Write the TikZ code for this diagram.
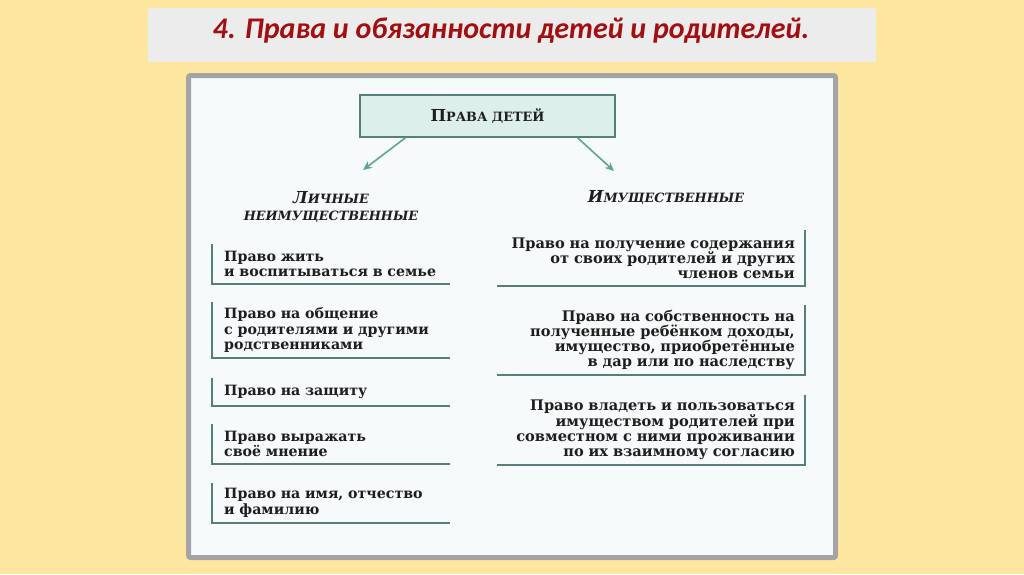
\documentclass[tikz,border=0pt]{standalone}
\usepackage{fontspec}
\setmainfont{DejaVu Serif}
\newfontfamily\titlefont{Carlito}
\usepackage{xcolor}
\usepackage{tikz}
\usetikzlibrary{arrows.meta,positioning}
\definecolor{slidebg}{HTML}{FDE7A0}
\definecolor{titlebg}{HTML}{ECECEC}
\definecolor{titlered}{HTML}{A30F10}
\definecolor{panelgray}{HTML}{A4A4A4}
\definecolor{panelbg}{HTML}{F6FAFA}
\definecolor{tealline}{HTML}{557F7A}
\definecolor{tealfill}{HTML}{DDEFEB}
\definecolor{tealarrow}{HTML}{5DA697}
\definecolor{inkdark}{HTML}{1E1E1E}
\newcommand{\fakesc}[2]{{\fontsize{16.5pt}{17pt}\selectfont #1}{\fontsize{12.8pt}{17pt}\selectfont #2}}
\tikzset{
  head/.style  ={draw=tealline,line width=1.4pt,fill=tealfill,minimum width=255pt,
                 minimum height=42pt,text=inkdark,font=\bfseries},
  cat/.style   ={align=center,text=inkdark,font=\bfseries\itshape\fontsize{12.8pt}{17pt}\selectfont},
  litem/.style ={anchor=west,text width=214pt,inner xsep=12pt,inner ysep=0pt,align=left,
                 text=inkdark,font=\bfseries\fontsize{14.2pt}{15.5pt}\selectfont},
  ritem/.style ={anchor=east,text width=288pt,inner xsep=10pt,inner ysep=0pt,align=right,
                 text=inkdark,font=\bfseries\fontsize{14.6pt}{15.2pt}\selectfont},
  brk/.style   ={draw=tealline,line width=1.6pt},
  branch/.style={-{Stealth[length=9pt,width=8pt]},line width=1.6pt,draw=tealarrow}
}
\begin{document}
\begin{tikzpicture}[x=1pt,y=-1pt]
  \fill[slidebg] (0,0) rectangle (1024,574);
  \useasboundingbox (0,0) rectangle (1024,574);
  % title bar
  \fill[titlebg] (148,8) rectangle (876,62);
  \node[font=\titlefont\bfseries\itshape\fontsize{30pt}{32pt}\selectfont,text=titlered] (title) at (511,31)
    {4. Права и обязанности детей и родителей.};
  % scheme panel
  \draw[panelgray,line width=5pt,fill=panelbg,rounded corners=2pt] (188.5,75.5) rectangle (835.5,557.5);
  \node[head] (rights) at (487.5,116) {\fakesc{П}{РАВА ДЕТЕЙ}};
  \coordinate (lend) at (363,170);
  \coordinate (rend) at (614,171);
  \draw[branch] ([xshift=-82pt]rights.south) -- (lend);
  \draw[branch] ([xshift=90pt]rights.south) -- (rend);
  \node[cat] (personal) at (331,207) {\fakesc{Л}{ИЧНЫЕ}\\\fakesc{}{НЕИМУЩЕСТВЕННЫЕ}};
  \node[cat] (property) at (666,197) {\fakesc{И}{МУЩЕСТВЕННЫЕ}};
  % left column
  \node[litem,minimum height=39pt] (l1) at (212,264) {Право жить\\и воспитываться в семье};
  \node[litem,minimum height=55pt] (l2) at (212,330) {Право на общение\\с родителями и другими\\родственниками};
  \node[litem,minimum height=27pt] (l3) at (212,392) {Право на защиту};
  \node[litem,minimum height=40pt] (l4) at (212,444) {Право выражать\\своё мнение};
  \node[litem,minimum height=40pt] (l5) at (212,503) {Право на имя, отчество\\и фамилию};
  \foreach \n in {l1,l2,l3,l4,l5}
    \draw[brk] (\n.north west) |- (\n.south east);
  % right column
  \node[ritem,minimum height=55pt] (r1) at (805,258) {Право на получение содержания\\от своих родителей и других\\членов семьи};
  \node[ritem,minimum height=70pt] (r2) at (805,340) {Право на собственность на\\полученные ребёнком доходы,\\имущество, приобретённые\\в дар или по наследству};
  \node[ritem,minimum height=70pt] (r3) at (805,430) {Право владеть и пользоваться\\имуществом родителей при\\совместном с ними проживании\\по их взаимному согласию};
  \foreach \n in {r1,r2,r3}
    \draw[brk] (\n.north east) |- (\n.south west);
\end{tikzpicture}
\end{document}
